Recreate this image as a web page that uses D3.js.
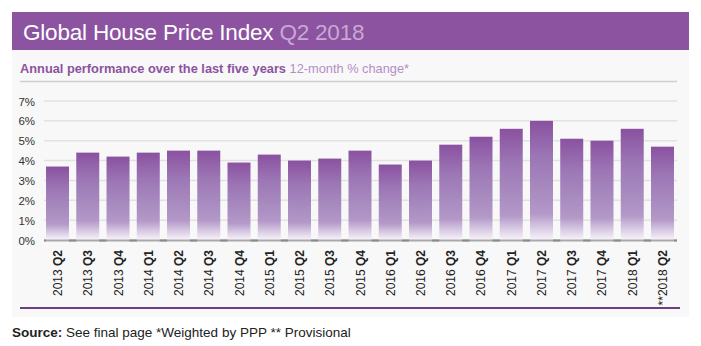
<!DOCTYPE html>
<html><head><meta charset="utf-8">
<script src="https://cdn.jsdelivr.net/npm/d3@7/dist/d3.min.js"></script>
<style>
html,body{margin:0;padding:0;background:#fff;}
svg{display:block;font-family:"Liberation Sans",Arial,sans-serif;}
</style></head>
<body><svg id="c" width="701" height="346"></svg>
<script>
const years = ["2013","2013","2013","2014","2014","2014","2014","2015","2015","2015","2015","2016","2016","2016","2016","2017","2017","2017","2017","2018","**2018"];
const quarters = ["Q2","Q3","Q4","Q1","Q2","Q3","Q4","Q1","Q2","Q3","Q4","Q1","Q2","Q3","Q4","Q1","Q2","Q3","Q4","Q1","Q2"];
const values = [3.7,4.4,4.2,4.4,4.5,4.5,3.9,4.3,4.0,4.1,4.5,3.8,4.0,4.8,5.2,5.6,6.0,5.1,5.0,5.6,4.7];
const yTicks = [0,1,2,3,4,5,6,7];
const title = "Global House Price Index";
const titleSuffix = "Q2 2018";
const subtitle = "Annual performance over the last five years";
const subtitleSuffix = "12-month % change*";

const svg = d3.select("#c");
const purple = "#8c53a1";

svg.append("rect").attr("x",12).attr("y",50).attr("width",677).attr("height",267).attr("fill","#f8f8f8");
svg.append("rect").attr("x",12).attr("y",12).attr("width",677).attr("height",38).attr("fill",purple);
const t = svg.append("text").attr("x",23).attr("y",40).attr("font-size",22.5).attr("fill","#fff").attr("letter-spacing",-0.2);
t.append("tspan").text(title);
t.append("tspan").attr("fill","#c7a9d3").text(" " + titleSuffix);

const st = svg.append("text").attr("x",20).attr("y",73).attr("font-size",12.8);
st.append("tspan").attr("font-weight","bold").attr("fill",purple).text(subtitle);
st.append("tspan").attr("fill","#b48ec6").text("  " + subtitleSuffix);
svg.append("line").attr("x1",20).attr("x2",677).attr("y1",81.5).attr("y2",81.5).attr("stroke","#cfcfcf").attr("stroke-width",1.5);

const defs = svg.append("defs");
const g = defs.append("linearGradient").attr("id","bg").attr("x1",0).attr("y1",0).attr("x2",0).attr("y2",1);
[[0,"#8a51a0"],[0.3,"#9c76b5"],[0.6,"#a98cc0"],[0.78,"#b398c8"],[0.9,"#d9cbe4"],[1,"#f8f4fa"]].forEach(([o,c])=>g.append("stop").attr("offset",o).attr("stop-color",c));

const x = d3.scaleBand().domain(d3.range(values.length)).range([43,677]).paddingInner(0.24).paddingOuter(0.1);
const y = d3.scaleLinear().domain([0,7]).range([240,101]);

svg.append("g").selectAll("line").data(yTicks.filter(d=>d>0)).join("line")
  .attr("x1",44).attr("x2",677).attr("y1",d=>y(d)).attr("y2",d=>y(d))
  .attr("stroke","#e2e2e2").attr("stroke-width",1.5);

const yAxis = d3.axisLeft(y).tickValues(yTicks).tickFormat(d=>d+"%").tickSize(0).tickPadding(0);
const ya = svg.append("g").attr("transform","translate(35,0)").call(yAxis);
ya.select(".domain").remove();
ya.selectAll("text").attr("font-size",11.5).attr("fill","#333").attr("font-family","Liberation Sans, Arial, sans-serif").attr("dy","0.35em");

svg.append("g").selectAll("rect").data(values).join("rect")
  .attr("x",(d,i)=>x(i)).attr("width",x.bandwidth())
  .attr("y",d=>y(d)).attr("height",d=>y(0)-y(d))
  .attr("fill","url(#bg)");

svg.append("line").attr("x1",44).attr("x2",677).attr("y1",240.5).attr("y2",240.5).attr("stroke","#a9a9a9").attr("stroke-width",2);
svg.append("g").selectAll("line").data(d3.range(values.length+1)).join("line")
  .attr("x1",i=> i===0 ? 44 : x(i-1)+x.bandwidth())
  .attr("x2",i=> i===values.length ? 677 : x(i))
  .attr("y1",240.5).attr("y2",240.5).attr("stroke","#8a8a8a").attr("stroke-width",2);

const xl = svg.append("g").selectAll("text").data(values).join("text")
  .attr("transform",(d,i)=>`translate(${x(i)+x.bandwidth()/2+4.5},250) rotate(-90)`)
  .attr("text-anchor","end").attr("font-size",12).attr("fill","#222");
xl.append("tspan").text((d,i)=>years[i]+" ");
xl.append("tspan").attr("font-weight","bold").text((d,i)=>quarters[i]);

svg.append("line").attr("x1",20).attr("x2",680).attr("y1",308).attr("y2",308).attr("stroke","#6b3f80").attr("stroke-width",2);

const s = svg.append("text").attr("x",12).attr("y",337).attr("font-size",13.5).attr("fill","#222");
s.append("tspan").attr("font-weight","bold").text("Source:");
s.append("tspan").text(" See final page *Weighted by PPP ** Provisional");
</script></body></html>
